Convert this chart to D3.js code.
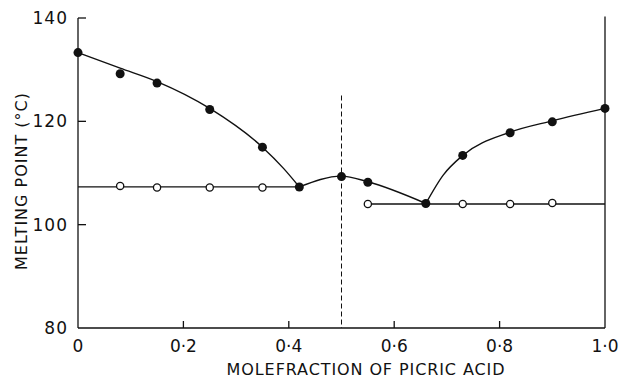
<!DOCTYPE html>
<html>
<head>
<meta charset="utf-8">
<script src="https://cdn.jsdelivr.net/npm/d3@7"></script>
<style>
  body { margin: 0; background: #fff; }
  svg text { font-family: "DejaVu Sans", sans-serif; fill: #111; }
</style>
</head>
<body>
<svg id="chart" width="622" height="379"></svg>
<script>
// measured melting points (filled circles)
const moleFraction = [0, 0.08, 0.15, 0.25, 0.35, 0.42, 0.50, 0.55, 0.66, 0.73, 0.82, 0.90, 1.0];
const meltingPoint = [133.3, 129.2, 127.4, 122.3, 115.0, 107.3, 109.3, 108.2, 104.1, 113.4, 117.8, 119.9, 122.5];

// drawn liquidus curves
const leftFitX = [0, 0.08, 0.15, 0.25, 0.35, 0.39, 0.42];
const leftFitT = [133.3, 130.3, 127.7, 122.5, 115.0, 110.9, 107.3];
const midFitX = [0.42, 0.50, 0.55, 0.66];
const midFitT = [107.3, 109.4, 108.3, 104.1];
const rightFitX = [0.66, 0.693, 0.73, 0.82, 0.90, 1.0];
const rightFitT = [104.1, 109.6, 113.4, 117.9, 120.1, 122.5];

// eutectic (open circles)
const eutecticX = [0.08, 0.15, 0.25, 0.35, 0.55, 0.73, 0.82, 0.90];
const eutecticT = [107.5, 107.2, 107.2, 107.2, 104.0, 104.0, 104.0, 104.2];
const eutecticLines = [[0, 0.42, 107.3], [0.55, 1.0, 104.0]];

const compoundX = 0.5;
const compoundTop = 125;

const xTicks = [0, 0.2, 0.4, 0.6, 0.8, 1.0];
const xTickLabels = ["0", "0·2", "0·4", "0·6", "0·8", "1·0"];
const yTicks = [80, 100, 120, 140];

const svg = d3.select("#chart");
const margin = { top: 18, right: 17, bottom: 51, left: 78 };
const width = 622 - margin.left - margin.right;
const height = 379 - margin.top - margin.bottom;

const x = d3.scaleLinear().domain([0, 1]).range([0, width]);
const y = d3.scaleLinear().domain([80, 140]).range([height, 0]);

const g = svg.append("g").attr("transform", `translate(${margin.left},${margin.top})`);

// frame: left, bottom, right (no top)
g.append("line").attr("x1", 0).attr("x2", 0).attr("y1", 0).attr("y2", height)
  .attr("stroke", "#111").attr("stroke-width", 1.3);
g.append("line").attr("x1", 0).attr("x2", width).attr("y1", height).attr("y2", height)
  .attr("stroke", "#111").attr("stroke-width", 1.3);
g.append("line").attr("x1", width).attr("x2", width).attr("y1", -1.5).attr("y2", height)
  .attr("stroke", "#111").attr("stroke-width", 1.3);

// y ticks (inward)
g.selectAll(".ytick")
  .data(yTicks.filter(d => d > 80))
  .join("line")
  .attr("x1", 0).attr("x2", 8)
  .attr("y1", d => y(d)).attr("y2", d => y(d))
  .attr("stroke", "#111").attr("stroke-width", 1.3);
g.selectAll(".ylab")
  .data(yTicks)
  .join("text")
  .attr("x", -10)
  .attr("y", d => y(d) + 6)
  .attr("text-anchor", "end")
  .attr("font-size", 17)
  .attr("letter-spacing", 1)
  .text(d => d);

// x ticks (inward)
g.selectAll(".xtick")
  .data(xTicks.filter(d => d > 0 && d < 1))
  .join("line")
  .attr("x1", d => x(d)).attr("x2", d => x(d))
  .attr("y1", height).attr("y2", height - 7)
  .attr("stroke", "#111").attr("stroke-width", 1.3);
g.selectAll(".xlab")
  .data(xTicks)
  .join("text")
  .attr("x", d => x(d))
  .attr("y", height + 24)
  .attr("text-anchor", "middle")
  .attr("font-size", 17)
  .text((d, i) => xTickLabels[i]);

// axis titles
svg.append("text")
  .attr("x", 366)
  .attr("y", 375)
  .attr("text-anchor", "middle")
  .attr("font-size", 16)
  .attr("letter-spacing", 0.9)
  .text("MOLEFRACTION OF PICRIC ACID");
svg.append("text")
  .attr("transform", "translate(27,181) rotate(-90)")
  .attr("text-anchor", "middle")
  .attr("font-size", 16)
  .attr("letter-spacing", 1)
  .text("MELTING POINT (°C)");

// dashed line at 1:1 compound
g.append("line")
  .attr("x1", x(compoundX)).attr("x2", x(compoundX))
  .attr("y1", y(compoundTop)).attr("y2", height)
  .attr("stroke", "#111").attr("stroke-width", 1)
  .attr("stroke-dasharray", "5,3");

// eutectic horizontal lines
g.selectAll(".eut")
  .data(eutecticLines)
  .join("line")
  .attr("x1", d => x(d[0])).attr("x2", d => x(d[1]))
  .attr("y1", d => y(d[2])).attr("y2", d => y(d[2]))
  .attr("stroke", "#111").attr("stroke-width", 1.3);

// liquidus branches
const line = d3.line()
  .x(d => x(d[0]))
  .y(d => y(d[1]))
  .curve(d3.curveMonotoneX);
[[leftFitX, leftFitT], [midFitX, midFitT], [rightFitX, rightFitT]].forEach(function(b) {
  g.append("path")
    .datum(b[0].map((d, i) => [d, b[1][i]]))
    .attr("d", line)
    .attr("fill", "none")
    .attr("stroke", "#111")
    .attr("stroke-width", 1.4);
});

// open circles
g.selectAll(".open")
  .data(eutecticX)
  .join("circle")
  .attr("cx", d => x(d))
  .attr("cy", (d, i) => y(eutecticT[i]))
  .attr("r", 3.6)
  .attr("fill", "#fff")
  .attr("stroke", "#111")
  .attr("stroke-width", 1.3);

// filled circles
g.selectAll(".filled")
  .data(moleFraction)
  .join("circle")
  .attr("cx", d => x(d))
  .attr("cy", (d, i) => y(meltingPoint[i]))
  .attr("r", 4.5)
  .attr("fill", "#111");
</script>
</body>
</html>
